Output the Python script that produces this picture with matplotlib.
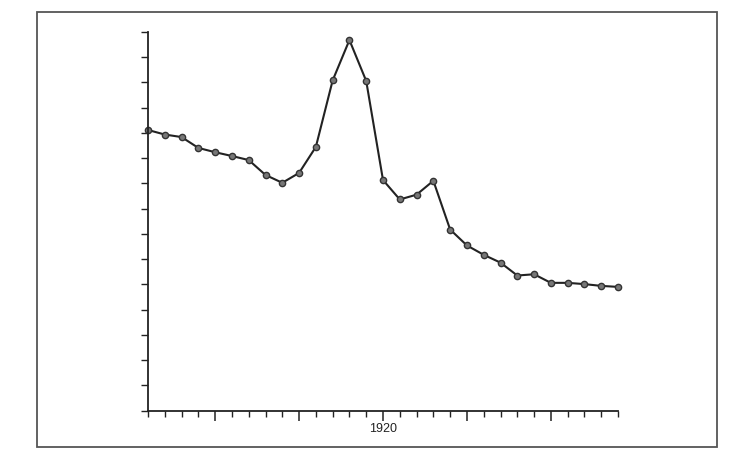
import matplotlib.pyplot as plt
from matplotlib.patches import Rectangle
from matplotlib.ticker import MultipleLocator, FixedLocator, FixedFormatter

plt.rcParams['font.family'] = ['Liberation Sans', 'DejaVu Sans']

# one point per year, values in y-tick units (axis has 15 unlabelled intervals)
years = list(range(1906, 1935))
values = [11.11, 10.93, 10.83, 10.40, 10.23, 10.08, 9.92, 9.33, 9.02, 9.41,
          10.44, 13.07, 14.67, 13.05, 9.13, 8.36, 8.55, 9.10, 7.17, 6.54,
          6.17, 5.86, 5.35, 5.40, 5.06, 5.06, 5.01, 4.94, 4.90]
major_years = [1910, 1915, 1920, 1925, 1930]
major_labels = ['', '', '1920', '', '']

fig = plt.figure(figsize=(7.49, 4.59), dpi=100)

# outer frame of the printed figure
fig.patches.append(Rectangle((37 / 749, 1 - 447 / 459), 680 / 749, 435 / 459,
                             transform=fig.transFigure, fill=False,
                             edgecolor='#555555', linewidth=1.3))

ax = fig.add_axes([148 / 749, 1 - 410.7 / 459, 470 / 749, 379 / 459])
ax.plot(years, values, color='#222222', linewidth=1.5, marker='o',
        markersize=4.5, markerfacecolor='#777777', markeredgecolor='#333333',
        markeredgewidth=1.0, clip_on=False)

ax.set_xlim(1906, 1934)
ax.set_ylim(0, 15)

ax.xaxis.set_major_locator(FixedLocator(major_years))
ax.xaxis.set_major_formatter(FixedFormatter(major_labels))
ax.xaxis.set_minor_locator(MultipleLocator(1))
ax.yaxis.set_major_locator(MultipleLocator(1))
ax.set_yticklabels([])

ax.tick_params(axis='x', which='major', direction='out', length=7, width=1.1,
               pad=2, labelsize=9, colors='#222222')
ax.tick_params(axis='x', which='minor', direction='out', length=4, width=1.0,
               colors='#222222')
ax.tick_params(axis='y', which='major', direction='out', length=5, width=1.0,
               colors='#222222')

for side in ['top', 'right']:
    ax.spines[side].set_visible(False)
for side in ['left', 'bottom']:
    ax.spines[side].set_linewidth(1.3)
    ax.spines[side].set_color('#222222')

fig.savefig('out.png', dpi=100)
